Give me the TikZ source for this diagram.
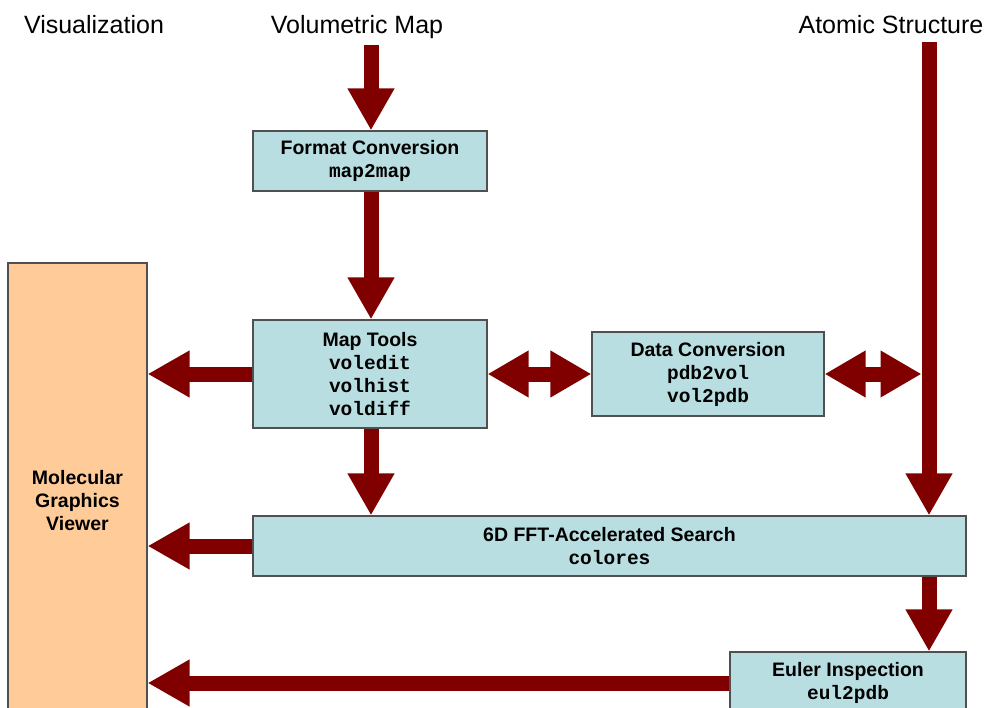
\documentclass[tikz,border=0pt]{standalone}
\usepackage{fontspec}
\setmainfont{Liberation Sans}
\setmonofont{Liberation Mono}
\usetikzlibrary{arrows.meta}
\definecolor{arrowc}{HTML}{800000}
\definecolor{boxfill}{HTML}{B9DEE2}
\definecolor{boxline}{HTML}{505050}
\definecolor{viewfill}{HTML}{FFCC99}
\begin{document}
\begin{tikzpicture}[x=1pt,y=-1pt,
  box/.style={draw=boxline, line width=1.2pt, fill=boxfill, inner sep=0pt, align=center,
    font=\fontsize{19.5}{23}\selectfont\bfseries},
  head/.style={font=\fontsize{25}{28}\selectfont, inner sep=0pt, anchor=base},
  arr/.style={draw=arrowc, line width=15pt, -{Triangle[width=44pt,length=42pt]}},
  darr/.style={draw=arrowc, line width=15pt, {Triangle[width=44pt,length=41pt]}-{Triangle[width=44pt,length=41pt]}},
  plain/.style={draw=arrowc, line width=15pt}]
\useasboundingbox (0,0) rectangle (990,708);
\fill[white] (0,0) rectangle (990,708);
% headings
\node[head] (vis) at (94,34) {Visualization};
\node[head] (vol) at (357,34) {Volumetric Map};
\node[head] (atm) at (891,34) {Atomic Structure};
% boxes
\node[box, minimum width=234pt, minimum height=60pt] (fmt) at (370,161)
  {Format Conversion\\\ttfamily map2map};
\node[box, minimum width=234pt, minimum height=108pt] (map) at (370,374)
  {Map Tools\\\ttfamily voledit\\\ttfamily volhist\\\ttfamily voldiff};
\node[box, minimum width=232pt, minimum height=84pt] (dat) at (708,374)
  {Data Conversion\\\ttfamily pdb2vol\\\ttfamily vol2pdb};
\node[box, minimum width=713pt, minimum height=60pt] (fft) at (609.5,546)
  {6D FFT-Accelerated Search\\\ttfamily colores};
\node[box, minimum width=236pt, minimum height=62pt] (eul) at (848,683)
  {Euler Inspection\\\ttfamily eul2pdb};
\node[box, fill=viewfill, minimum width=139pt, minimum height=476pt, font=\fontsize{19.5}{23}\selectfont\bfseries] (view) at (77.5,501)
  {Molecular\\Graphics\\Viewer};
% coordinates
\coordinate (vtop) at (371,45);
\coordinate (atop) at (929,42);
\coordinate (junc) at (921.5,374);
% arrows
\draw[arr] (vtop) -- (fmt.north -| vtop);
\draw[arr] (fmt.south -| vtop) -- (map.north -| vtop);
\draw[arr] (map.south -| vtop) -- (fft.north -| vtop);
\draw[arr] (atop) -- (fft.north -| atop);
\draw[arr] (fft.south -| atop) -- (eul.north -| atop);
\draw[arr] (map.west) -- (view.east |- map.west);
\draw[arr] (fft.west) -- (view.east |- fft.west);
\draw[arr] (eul.west) -- (view.east |- eul.west);
\draw[darr] (map.east) -- (dat.west);
\draw[darr] (dat.east) -- (junc);
\end{tikzpicture}
\end{document}
